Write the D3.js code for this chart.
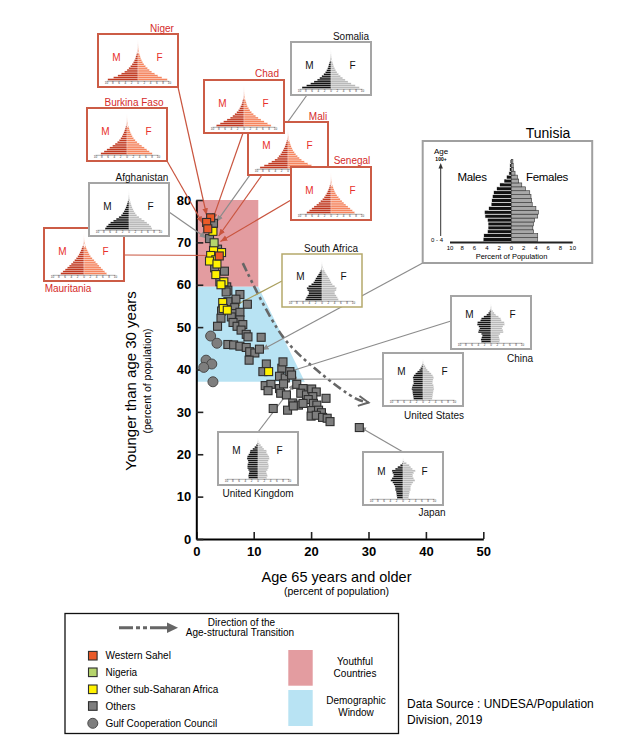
<!DOCTYPE html>
<html><head><meta charset="utf-8">
<script src="https://cdn.jsdelivr.net/npm/d3@7"></script>
<style>
body{margin:0;background:#fff;}
svg{display:block;font-family:Arial,"Liberation Sans",sans-serif;}
</style>
</head><body>
<svg id="c" width="634" height="745"></svg>
<script>
// ---------------- DATA ----------------
const xTicks = [0, 10, 20, 30, 40, 50];
const yTicks = [0, 10, 20, 30, 40, 50, 60, 70, 80];

// [age 65+ %, under 30 %]
const westernSahel = [[2.5,75.8],[1.8,74.7],[2.0,73.2],[4.0,66.8]];
const nigeria = [[3.1,69.9]];
const otherSSA = [[2.9,72.6],[3.0,68.1],[4.4,67.6],[2.5,66.9],[3.4,65.9],[2.3,65.6],[3.6,64.9],[3.4,62.4],[4.8,60.7],[4.3,60.0],[4.6,55.8],[4.7,54.4],[5.4,54.0],[12.6,39.5]];
const others = [[3.0,74.5],[2.3,70.9],[3.7,68.4],[3.2,64.0],[4.9,63.2],[4.1,60.7],[5.3,59.5],[5.5,58.7],[7.6,57.7],[5.2,58.3],[6.9,56.6],[5.5,56.0],[8.9,55.4],[6.7,54.6],[4.4,53.8],[6.4,53.2],[7.6,53.5],[4.3,52.1],[6.1,52.4],[7.6,51.7],[3.7,50.2],[6.4,51.1],[7.1,50.2],[8.1,50.6],[7.8,49.3],[8.7,48.3],[9.0,47.7],[11.3,47.6],[5.5,45.9],[6.5,45.8],[7.6,45.5],[8.7,45.2],[9.3,44.2],[10.2,43.9],[11.0,44.8],[9.2,42.2],[12.2,41.3],[11.6,39.5],
 [12.0,36.2],[13.0,36.5],[12.5,35.0],[14.5,35.5],[14.9,40.3],[15.1,41.8],[14.5,38.4],[15.5,38.0],[16.3,39.5],[16.6,38.7],[17.5,36.5],[15.2,36.6],[14.7,34.4],[15.7,34.0],[18.6,35.5],[18.2,34.4],[19.2,34.0],[20.1,35.4],[20.9,34.7],[20.3,33.6],[22.6,33.2],[19.5,32.9],[16.8,32.1],[17.8,31.6],[18.6,32.0],[20.4,32.0],[21.0,31.6],[13.4,30.8],[15.9,30.4],[16.9,31.4],[20.1,30.3],[21.3,30.4],[21.8,29.8],[20.0,29.0],[20.9,29.2],[22.0,28.7],[22.8,28.5],[23.3,27.7],[28.4,26.3]];
const gcc = [[2.5,47.9],[3.6,46.2],[1.7,42.2],[2.7,41.3],[1.3,40.5],[2.9,37.1]];

const youthfulZone = [[0,80],[10.8,80],[10.8,59.5],[0,59.5]];
const windowZone = [[0,59.5],[10.8,59.5],[18.9,37.1],[0,37.1]];
const transitionPath = [[8.1,65.1],[15.1,47.7],[21.6,39.2],[28.0,33.0],[30.0,32.2]];

const ageGroups = ["0-4","5-9","10-14","15-19","20-24","25-29","30-34","35-39","40-44","45-49","50-54","55-59","60-64","65-69","70-74","75-79","80-84","85-89","90-94","95-99","100+"];
const pctTicks = [-10,-8,-6,-4,-2,0,2,4,6,8,10];

// percent of population by age group (bottom to top)
const nigerM = [9.6,7.8,6.4,5.3,4.3,3.5,2.9,2.4,1.9,1.5,1.2,0.9,0.7,0.5,0.35,0.22,0.12,0.06,0.03,0.01,0.005];
const nigerF = [9.3,7.6,6.3,5.3,4.4,3.6,3.0,2.4,1.9,1.5,1.2,0.9,0.7,0.5,0.35,0.23,0.13,0.07,0.03,0.01,0.005];
const burkinaM = [8.3,7.3,6.4,5.5,4.6,3.8,3.1,2.5,2.0,1.6,1.3,1.0,0.8,0.6,0.4,0.25,0.13,0.06,0.02,0.01,0.005];
const burkinaF = [8.0,7.1,6.3,5.5,4.7,3.9,3.2,2.6,2.1,1.7,1.4,1.1,0.9,0.7,0.5,0.3,0.16,0.07,0.03,0.01,0.005];
const chadM = [8.8,7.6,6.5,5.4,4.4,3.6,2.9,2.3,1.8,1.4,1.1,0.8,0.6,0.45,0.3,0.18,0.09,0.04,0.02,0.01,0.005];
const chadF = [8.6,7.5,6.4,5.4,4.5,3.7,3.0,2.4,1.9,1.5,1.1,0.9,0.7,0.5,0.33,0.2,0.1,0.05,0.02,0.01,0.005];
const maliM = [8.9,7.6,6.3,5.2,4.2,3.4,2.9,2.4,2.0,1.6,1.3,1.0,0.8,0.6,0.4,0.25,0.12,0.05,0.02,0.01,0.005];
const maliF = [8.7,7.5,6.3,5.2,4.3,3.6,3.0,2.5,2.0,1.6,1.3,1.0,0.8,0.6,0.42,0.27,0.14,0.06,0.02,0.01,0.005];
const senegalM = [7.7,6.9,6.1,5.4,4.6,3.9,3.3,2.7,2.2,1.8,1.4,1.1,0.85,0.6,0.42,0.27,0.14,0.06,0.02,0.01,0.005];
const senegalF = [7.5,6.8,6.1,5.4,4.7,4.1,3.5,2.9,2.4,1.9,1.5,1.2,0.95,0.7,0.5,0.32,0.17,0.08,0.03,0.01,0.005];
const mauritaniaM = [7.4,6.7,6.0,5.3,4.7,4.1,3.5,3.0,2.5,2.0,1.6,1.3,1.0,0.75,0.52,0.32,0.17,0.07,0.02,0.01,0.005];
const mauritaniaF = [7.2,6.6,6.0,5.4,4.8,4.3,3.7,3.2,2.6,2.1,1.7,1.4,1.1,0.8,0.58,0.37,0.2,0.09,0.03,0.01,0.005];
const somaliaM = [9.2,7.8,6.5,5.4,4.4,3.6,2.9,2.3,1.8,1.4,1.1,0.9,0.7,0.5,0.33,0.2,0.1,0.04,0.01,0.005,0.002];
const somaliaF = [9.0,7.7,6.4,5.4,4.5,3.7,3.0,2.4,1.9,1.5,1.2,0.9,0.7,0.52,0.36,0.22,0.11,0.05,0.02,0.005,0.002];
const afghanistanM = [7.6,7.2,6.6,5.9,5.0,4.1,3.2,2.5,2.0,1.6,1.3,1.0,0.8,0.6,0.4,0.22,0.1,0.04,0.01,0.005,0.002];
const afghanistanF = [7.3,7.0,6.4,5.7,4.9,4.0,3.2,2.5,2.0,1.6,1.3,1.0,0.8,0.6,0.42,0.25,0.12,0.05,0.02,0.005,0.002];
const southAfricaM = [5.3,5.0,4.6,4.2,4.2,4.6,4.8,4.3,3.4,2.7,2.3,2.0,1.6,1.2,0.8,0.5,0.25,0.1,0.03,0.01,0.002];
const southAfricaF = [5.2,4.9,4.5,4.1,4.1,4.5,4.6,4.1,3.3,2.9,2.6,2.3,1.9,1.5,1.1,0.8,0.45,0.2,0.07,0.02,0.005];
const chinaM = [3.1,3.2,3.0,2.8,3.1,4.1,3.9,3.6,3.9,4.4,4.3,3.4,3.1,2.3,1.4,0.85,0.45,0.18,0.05,0.01,0.002];
const chinaF = [2.7,2.8,2.6,2.5,2.9,3.9,3.8,3.5,3.8,4.3,4.2,3.3,3.1,2.4,1.5,1.0,0.6,0.3,0.1,0.02,0.004];
const usM = [3.0,3.1,3.2,3.3,3.4,3.6,3.5,3.3,3.0,3.1,3.1,3.2,2.9,2.4,1.8,1.2,0.8,0.45,0.18,0.04,0.005];
const usF = [2.9,3.0,3.1,3.2,3.3,3.5,3.4,3.3,3.0,3.1,3.2,3.4,3.1,2.6,2.0,1.4,1.0,0.7,0.35,0.1,0.02];
const ukM = [3.0,3.1,2.9,2.8,3.1,3.4,3.4,3.3,3.1,3.2,3.5,3.4,3.0,2.6,2.5,1.7,1.1,0.6,0.22,0.05,0.01];
const ukF = [2.8,3.0,2.8,2.6,3.0,3.3,3.4,3.3,3.1,3.3,3.6,3.5,3.1,2.7,2.7,1.9,1.4,0.9,0.45,0.12,0.02];
const japanM = [1.9,2.0,2.1,2.2,2.5,2.5,2.6,2.9,3.3,3.9,3.5,3.1,3.0,3.3,3.5,2.5,1.7,0.9,0.3,0.05,0.005];
const japanF = [1.8,1.9,2.0,2.1,2.4,2.4,2.5,2.8,3.2,3.8,3.4,3.1,3.1,3.4,3.9,3.0,2.5,2.0,1.1,0.35,0.06];
const tunisiaM = [4.6,4.5,3.9,3.8,3.8,3.9,4.3,4.4,3.7,3.3,3.2,3.1,2.9,2.4,1.9,1.2,0.8,0.4,0.3,0.25,0.2];
const tunisiaF = [4.3,4.3,3.6,3.5,3.6,3.8,4.3,4.4,4.0,3.4,3.3,3.2,3.0,2.3,1.7,1.2,1.0,0.6,0.35,0.3,0.25];

// ---------------- LAYOUT ----------------
const RED = {box:"#cc5c46", line:"#c9553f", label:"#d52b2b", mf:"#e8302a", male:"#c13a22", female:"#f5855f", bw:2};
const GRY = {box:"#a5a5a5", line:"#8c8c8c", label:"#111", mf:"#111", male:"#141414", female:"#b9b9b9", bw:2};
const OLV = {box:"#b5a96b", line:"#aa9f5e", label:"#111", mf:"#111", male:"#141414", female:"#b9b9b9", bw:1.5};

// drawing order matters (later on top)
const insets = [
 {name:"Niger", M:nigerM, F:nigerF, pal:RED, box:[98,34], lab:[64,-6], mfy:23, from:[80,53], to:[1.8,76.4]},
 {name:"Burkina Faso", M:burkinaM, F:burkinaF, pal:RED, box:[87,108], lab:[47,-6], mfy:23, from:[80,53], to:[1.1,74.5]},
 {name:"Somalia", M:somaliaM, F:somaliaF, pal:GRY, box:[291,42], lab:[60,-6], mfy:23, from:[16,53], to:[3.5,74.8]},
 {name:"Mali", M:maliM, F:maliF, pal:RED, box:[248,122], lab:[70,-6], mfy:23, from:[14,53], to:[3.9,71.5]},
 {name:"Chad", M:chadM, F:chadF, pal:RED, box:[204,80], lab:[63,-7], mfy:23, from:[39,53], to:[2.8,75.2]},
 {name:"Senegal", M:senegalM, F:senegalF, pal:RED, box:[291,167], lab:[61,-7], mfy:23, from:[0,33], to:[4.2,70.2]},
 {name:"Mauritania", M:mauritaniaM, F:mauritaniaF, pal:RED, box:[44,228], lab:[24,60], mfy:23, from:[80,27], to:[3.9,66.9]},
 {name:"Afghanistan", M:afghanistanM, F:afghanistanF, pal:GRY, box:[89,183], lab:[53,-6], mfy:23, from:[80,29], to:[1.8,71.0]},
 {name:"South Africa", M:southAfricaM, F:southAfricaF, pal:OLV, box:[282,254], lab:[49,-6], mfy:22, from:[0,27], to:[6.4,54.8]},
 {name:"China", M:chinaM, F:chinaF, pal:GRY, box:[451,296], lab:[69,62], mfy:18, from:[0,25], to:[16.0,39.4]},
 {name:"United States", M:usM, F:usF, pal:GRY, box:[383,353], lab:[51,62], mfy:18, from:[0,26], to:[16.3,37.7]},
 {name:"United Kingdom", M:ukM, F:ukF, pal:GRY, box:[218,432], lab:[40,61], mfy:18, from:[40,0], to:[17.2,36.7]},
 {name:"Japan", M:japanM, F:japanF, pal:GRY, box:[363,452], lab:[69,60], mfy:19, from:[40,0], to:[28.4,26.5]}
];
const tunisiaBox = {x:422.7, y:141, w:169.5, h:122, to:[11.4,44.6]};

// ---------------- DRAW ----------------
const svg = d3.select("#c");
const x = d3.scaleLinear().domain([0,50]).range([196.3,483.3]);
const y = d3.scaleLinear().domain([0,80]).range([539,200]);
const poly = d3.line().x(d=>x(d[0])).y(d=>y(d[1]));

const defs = svg.append("defs");
function arrowMarker(id, color){
  defs.append("marker").attr("id",id).attr("viewBox","0 -5 10 10").attr("refX",10).attr("refY",0)
    .attr("markerWidth",7).attr("markerHeight",7).attr("markerUnits","userSpaceOnUse").attr("orient","auto")
    .append("path").attr("d","M0,-4L10,0L0,4Z").attr("fill",color);
}
arrowMarker("arR", RED.line); arrowMarker("arG", GRY.line); arrowMarker("arO", OLV.line);
defs.append("marker").attr("id","arT").attr("viewBox","-12 -7 14 14").attr("refX",0).attr("refY",0)
  .attr("markerWidth",14).attr("markerHeight",14).attr("markerUnits","userSpaceOnUse").attr("orient","auto")
  .append("path").attr("d","M-10,-5L0,0L-10,5").attr("fill","none").attr("stroke","#666").attr("stroke-width",2);

// zones
svg.append("path").attr("d", poly(youthfulZone)+"Z").attr("fill","#e39ca0");
svg.append("path").attr("d", poly(windowZone)+"Z").attr("fill","#b8e3f3");

// transition curve
svg.append("path").attr("d", d3.line().x(d=>x(d[0])).y(d=>y(d[1])).curve(d3.curveCatmullRom)(transitionPath))
  .attr("fill","none").attr("stroke","#666").attr("stroke-width",2.6)
  .attr("stroke-dasharray","9,3.5,3,3.5,3,3.5").attr("marker-end","url(#arT)");

// axes
const gx = svg.append("g").attr("transform",`translate(0,${y(0)})`)
  .call(d3.axisBottom(x).tickValues(xTicks).tickSize(-7).tickSizeOuter(0).tickPadding(8));
const gy = svg.append("g").attr("transform",`translate(${x(0)},0)`)
  .call(d3.axisLeft(y).tickValues(yTicks).tickSize(-7).tickSizeOuter(0).tickPadding(5));
[gx,gy].forEach(g=>{
  g.select(".domain").attr("stroke","#000").attr("stroke-width",2);
  g.selectAll(".tick line").attr("stroke","#222").attr("stroke-width",1.6);
  g.selectAll(".tick text").attr("font-family","Arial, 'Liberation Sans', sans-serif")
   .attr("font-size",13).attr("font-weight","bold").attr("fill","#000");
});

// axis titles
svg.append("text").attr("x",336.5).attr("y",582).attr("text-anchor","middle").attr("font-size",14.5).text("Age 65 years and older");
svg.append("text").attr("x",336.5).attr("y",594.5).attr("text-anchor","middle").attr("font-size",10.5).text("(percent of population)");
svg.append("text").attr("transform","translate(136,381) rotate(-90)").attr("text-anchor","middle").attr("font-size",15).text("Younger than age 30 years");
svg.append("text").attr("transform","translate(151,381) rotate(-90)").attr("text-anchor","middle").attr("font-size",10.5).text("(percent of population)");

// leader lines
const leaders = svg.append("g");
insets.forEach(ins=>{
  const id = ins.pal===RED?"arR":(ins.pal===OLV?"arO":"arG");
  leaders.append("line").attr("x1",ins.box[0]+ins.from[0]).attr("y1",ins.box[1]+ins.from[1])
   .attr("x2",x(ins.to[0])).attr("y2",y(ins.to[1])).attr("stroke",ins.pal.line).attr("stroke-width",1.2)
   .attr("marker-end",`url(#${id})`);
});
leaders.append("line").attr("x1",tunisiaBox.x).attr("y1",tunisiaBox.y+tunisiaBox.h)
  .attr("x2",x(tunisiaBox.to[0])).attr("y2",y(tunisiaBox.to[1])).attr("stroke",GRY.line).attr("stroke-width",1.2)
  .attr("marker-end","url(#arG)");

// points
function squares(data, fill){
  svg.append("g").selectAll("rect").data(data).join("rect")
    .attr("x",d=>x(d[0])-4).attr("y",d=>y(d[1])-4).attr("width",8).attr("height",8)
    .attr("fill",fill).attr("stroke","#2e2e2e").attr("stroke-width",1.1);
}
squares(others,"#7e7e7e");
svg.append("g").selectAll("circle").data(gcc).join("circle")
  .attr("cx",d=>x(d[0])).attr("cy",d=>y(d[1])).attr("r",5).attr("fill","#7e7e7e").attr("stroke","#4a4a4a").attr("stroke-width",1);
squares(otherSSA,"#fff200");
squares(nigeria,"#b5d46c");
squares(westernSahel,"#ea5a28");

// small pyramids
const sxS = d3.scaleLinear().domain([-10,10]).range([8.5,71.5]);
const syS = d3.scaleBand().domain(ageGroups).range([46.5,6.5]);
insets.forEach(ins=>{
  const g = svg.append("g").attr("transform",`translate(${ins.box[0]},${ins.box[1]})`);
  g.append("rect").attr("width",80).attr("height",53).attr("fill","#fff").attr("stroke",ins.pal.box).attr("stroke-width",ins.pal.bw);
  const rows = ageGroups.map((a,i)=>({a, m:ins.M[i], f:ins.F[i]}));
  g.selectAll("rect.m").data(rows).join("rect").attr("class","m")
    .attr("x",d=>sxS(-d.m)).attr("y",d=>syS(d.a)).attr("width",d=>sxS(0)-sxS(-d.m)).attr("height",syS.bandwidth())
    .attr("fill",ins.pal.male).attr("stroke","#fff").attr("stroke-width",0.3);
  g.selectAll("rect.f").data(rows).join("rect").attr("class","f")
    .attr("x",sxS(0)).attr("y",d=>syS(d.a)).attr("width",d=>sxS(d.f)-sxS(0)).attr("height",syS.bandwidth())
    .attr("fill",ins.pal.female).attr("stroke","#fff").attr("stroke-width",0.3);
  g.append("line").attr("x1",sxS(-10)).attr("x2",sxS(10)).attr("y1",47.3).attr("y2",47.3).attr("stroke","#777").attr("stroke-width",0.6);
  g.selectAll("text.t").data(pctTicks).join("text").attr("class","t")
    .attr("x",d=>sxS(d)).attr("y",50).attr("text-anchor","middle").attr("font-size",3).attr("fill","#333").text(d=>Math.abs(d));
  g.append("text").attr("x",18.5).attr("y",ins.mfy+3.5).attr("text-anchor","middle").attr("font-size",10).attr("fill",ins.pal.mf).text("M");
  g.append("text").attr("x",61.5).attr("y",ins.mfy+3.5).attr("text-anchor","middle").attr("font-size",10).attr("fill",ins.pal.mf).text("F");
  g.append("text").attr("x",ins.lab[0]).attr("y",ins.lab[1]+3.5).attr("text-anchor","middle").attr("font-size",10)
    .attr("fill",ins.pal.label).text(ins.name);
});

// Tunisia inset
(function(){
  const b = tunisiaBox;
  svg.append("rect").attr("x",b.x).attr("y",b.y).attr("width",b.w).attr("height",b.h).attr("fill","#fff").attr("stroke","#a0a0a0").attr("stroke-width",2);
  svg.append("text").attr("x",548).attr("y",138).attr("text-anchor","middle").attr("font-size",14).text("Tunisia");
  const tx = d3.scaleLinear().domain([-10,10]).range([450,572.7]);
  const ty = d3.scaleBand().domain(ageGroups).range([241.5,159.5]);
  const rows = ageGroups.map((a,i)=>({a, m:tunisiaM[i], f:tunisiaF[i]}));
  svg.append("g").selectAll("rect").data(rows).join("rect")
    .attr("x",d=>tx(-d.m)).attr("y",d=>ty(d.a)).attr("width",d=>tx(0)-tx(-d.m)).attr("height",ty.bandwidth())
    .attr("fill","#111").attr("stroke","#fff").attr("stroke-width",0.6);
  svg.append("g").selectAll("rect").data(rows).join("rect")
    .attr("x",tx(0)).attr("y",d=>ty(d.a)).attr("width",d=>tx(d.f)-tx(0)).attr("height",ty.bandwidth())
    .attr("fill","#a8a8a8").attr("stroke","#333").attr("stroke-width",0.6);
  svg.append("line").attr("x1",tx(-10)).attr("x2",tx(10)).attr("y1",242.5).attr("y2",242.5).attr("stroke","#222").attr("stroke-width",2.2);
  svg.append("g").selectAll("text").data(pctTicks).join("text")
    .attr("x",d=>tx(d)).attr("y",249.5).attr("text-anchor","middle").attr("font-size",6).text(d=>Math.abs(d));
  svg.append("text").attr("x",511.5).attr("y",259).attr("text-anchor","middle").attr("font-size",7.5).text("Percent of Population");
  svg.append("text").attr("x",441).attr("y",153.5).attr("text-anchor","middle").attr("font-size",8).text("Age");
  svg.append("text").attr("x",441).attr("y",161).attr("text-anchor","middle").attr("font-size",5).attr("font-weight","bold").text("100+");
  svg.append("line").attr("x1",440.7).attr("x2",440.7).attr("y1",236).attr("y2",166).attr("stroke","#333").attr("stroke-width",1);
  svg.append("path").attr("d","M440.7,163L438.5,168.5L442.9,168.5Z").attr("fill","#333");
  svg.append("text").attr("x",437).attr("y",242).attr("text-anchor","middle").attr("font-size",6).text("0 - 4");
  svg.append("text").attr("x",472).attr("y",181).attr("text-anchor","middle").attr("font-size",11.5).attr("letter-spacing",-0.3).text("Males");
  svg.append("text").attr("x",547).attr("y",181).attr("text-anchor","middle").attr("font-size",11.5).attr("letter-spacing",-0.3).text("Females");
})();

// legend
const lg = svg.append("g");
lg.append("rect").attr("x",65).attr("y",613.5).attr("width",333.5).attr("height",120).attr("fill","#fff").attr("stroke","#111").attr("stroke-width",1.3);
lg.append("line").attr("x1",119).attr("x2",168).attr("y1",627.7).attr("y2",627.7).attr("stroke","#666").attr("stroke-width",3)
  .attr("stroke-dasharray","14,3,4,3,4,3,20");
lg.append("path").attr("d","M167,622.5L178,627.7L167,632.9Z").attr("fill","#666");
lg.append("text").attr("x",241.5).attr("y",625.5).attr("text-anchor","middle").attr("font-size",10).text("Direction of the");
lg.append("text").attr("x",240).attr("y",636).attr("text-anchor","middle").attr("font-size",10).text("Age-structural Transition");
const legItems = [
  {t:"Western Sahel", c:"#ea5a28", s:"sq", yy:655.7},
  {t:"Nigeria", c:"#b5d46c", s:"sq", yy:672.3},
  {t:"Other sub-Saharan Africa", c:"#fff200", s:"sq", yy:689.3},
  {t:"Others", c:"#7e7e7e", s:"sq", yy:706},
  {t:"Gulf Cooperation Council", c:"#7e7e7e", s:"ci", yy:723.3}
];
legItems.forEach(d=>{
  if(d.s==="sq") lg.append("rect").attr("x",88.5).attr("y",d.yy-4.3).attr("width",8.6).attr("height",8.6).attr("fill",d.c).attr("stroke","#2e2e2e").attr("stroke-width",1.1);
  else lg.append("circle").attr("cx",92.8).attr("cy",d.yy).attr("r",5).attr("fill",d.c).attr("stroke","#4a4a4a");
  lg.append("text").attr("x",105.5).attr("y",d.yy+3.6).attr("font-size",10).text(d.t);
});
lg.append("rect").attr("x",288.3).attr("y",650).attr("width",24.4).attr("height",35.7).attr("fill","#e39ca0");
lg.append("rect").attr("x",288.3).attr("y",690).attr("width",24.4).attr("height",36).attr("fill","#b8e3f3");
lg.append("text").attr("x",355).attr("y",665.2).attr("text-anchor","middle").attr("font-size",10).text("Youthful");
lg.append("text").attr("x",355).attr("y",676.8).attr("text-anchor","middle").attr("font-size",10).text("Countries");
lg.append("text").attr("x",356).attr("y",704.2).attr("text-anchor","middle").attr("font-size",10).text("Demographic");
lg.append("text").attr("x",356).attr("y",715.8).attr("text-anchor","middle").attr("font-size",10).text("Window");

svg.append("text").attr("x",407).attr("y",708).attr("font-size",12).text("Data Source : UNDESA/Population");
svg.append("text").attr("x",407).attr("y",723.5).attr("font-size",12).text("Division, 2019");
</script>
</body></html>
